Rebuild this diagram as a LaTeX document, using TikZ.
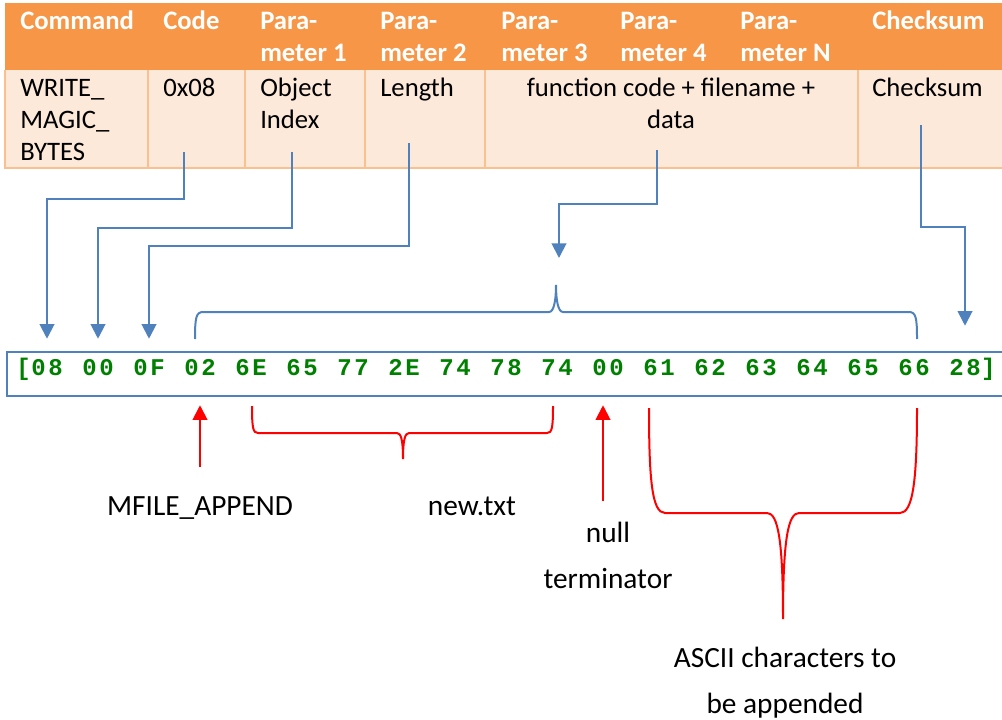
\documentclass[tikz,border=0pt]{standalone}
\usepackage{fontspec}
\setmainfont{Carlito}
\newfontfamily\hexfamily[LetterSpace=10.8]{Liberation Mono}
\usetikzlibrary{positioning,arrows.meta}

\definecolor{headorange}{HTML}{F79646}
\definecolor{bodypeach}{HTML}{FDE9D9}
\definecolor{rulepeach}{HTML}{FAC090}
\definecolor{linkblue}{HTML}{4F81BD}
\definecolor{hexgreen}{RGB}{0,128,0}

\newcommand{\headfont}{\fontsize{20}{24}\selectfont\bfseries}
\newcommand{\cellfont}{\fontsize{20}{24}\selectfont}
\newcommand{\notefont}{\fontsize{22}{34.5}\selectfont}
\newcommand{\hexfont}{\fontsize{18}{20}\selectfont\hexfamily\bfseries}

\begin{document}
\begin{tikzpicture}[x=0.75pt,y=-0.75pt]
  \tikzset{
    headtext/.style={font=\headfont, text=white, inner sep=0pt, anchor=base west, align=left},
    celltext/.style={font=\cellfont, inner sep=0pt, anchor=base west, align=left},
    hexbyte/.style={font=\hexfont, text=hexgreen, inner sep=0pt, text height=4.5pt, text depth=0pt, minimum height=49.5pt},
    note/.style={font=\notefont, inner sep=0pt, anchor=base, align=center},
    link/.style={linkblue, line width=1.5pt, -{Triangle[width=11pt,length=11pt]}},
    redlink/.style={red, line width=1.5pt, -{Triangle[width=11pt,length=11pt]}},
    bracket/.style={line width=1.5pt},
  }
  \useasboundingbox (0,0) rectangle (1002,720);

  % table
  \fill[headorange] (5,3) rectangle (1002,70);
  \fill[bodypeach] (5,70) rectangle (1002,168);
  \draw[rulepeach, line width=1.5pt] (5,70) -- (5,168) -- (1002,168);
  \foreach \x in {148,245,365,485,858}
    \draw[rulepeach, line width=1.5pt] (\x,70) -- (\x,168);

  % (base of a multi-line node = its last line)
  \node[headtext] (hcmd) at (20,30) {Command};
  \node[headtext] (hcode) at (163,30) {Code};
  \node[headtext] (hpar1) at (260,62) {Para-\\meter 1};
  \node[headtext] (hpar2) at (380,62) {Para-\\meter 2};
  \node[headtext] (hpar3) at (501,62) {Para-\\meter 3};
  \node[headtext] (hpar4) at (620,62) {Para-\\meter 4};
  \node[headtext] (hparn) at (740,62) {Para-\\meter N};
  \node[headtext] (hsum) at (872,30) {Checksum};

  \node[celltext] (vcmd) at (20,161) {WRITE\_\\MAGIC\_\\BYTES};
  \node[celltext] (vcode) at (163,97) {0x08};
  \node[celltext] (vpar1) at (260,129) {Object\\Index};
  \node[celltext] (vpar2) at (380,97) {Length};
  \node[celltext, anchor=base, align=center] (vdata) at (671,129) {function code + filename +\\data};
  \node[celltext] (vsum) at (872,97) {Checksum};

  % byte string
  \draw[linkblue, line width=1.2pt] (1004,352) -- (7,352) -- (7,396) -- (1004,396);
  \foreach \b [count=\i] in {08,00,0F,02,6E,65,77,2E,74,78,74,00,61,62,63,64,65,66,28}
    \node[hexbyte] (b\i) at ({47+51*(\i-1)},372) {\b};
  \node[hexbyte, left=0pt of b1] (lbr) {[};
  \node[hexbyte, right=0pt of b19] (rbr) {]};

  % links from the table
  \coordinate (codeout) at (184,152);
  \coordinate (par1out) at (292,152);
  \coordinate (par2out) at (409,143);
  \coordinate (dataout) at (657,150);
  \coordinate (datatip) at (559,258);
  \coordinate (sumout) at (921,125);
  \draw[link] (codeout) -- ++(0,47) -| (b1.north);
  \draw[link] (par1out) -- ++(0,76) -| (b2.north);
  \draw[link] (par2out) -- ++(0,103) -| (b3.north);
  \draw[link] (dataout) -- ++(0,54) -| (datatip);
  \draw[link] (sumout) -- ++(0,102) -| ([yshift=9.75pt]b19.north);

  % braces
  \draw[bracket, linkblue] (195,339) .. controls (195,318) and (196,312) .. (203,312)
    -- (549,312) .. controls (554,312) and (556,300) .. (556,285)
    .. controls (556,300) and (558,312) .. (563,312)
    -- (909,312) .. controls (916,312) and (917,318) .. (917,339);
  \draw[bracket, red] (252,406) .. controls (252,428) and (253,433) .. (258,433)
    -- (397,433) .. controls (401,433) and (403,440) .. (403,459)
    .. controls (403,440) and (405,433) .. (409,433)
    -- (547,433) .. controls (552,433) and (553,428) .. (553,406);
  \draw[bracket, red] (649,408) .. controls (649,480) and (652,513) .. (665,513)
    -- (767,513) .. controls (778,513) and (783,540) .. (783,619)
    .. controls (783,540) and (788,513) .. (799,513)
    -- (900,513) .. controls (913,513) and (917,480) .. (917,408);

  % notes
  \node[note] (mfile) at (200,515) {MFILE\_APPEND};
  \node[note] (fname) at (472,515) {new.txt};
  \node[note] (nullnote) at (608,588) {null\\terminator};
  \node[note] (asciinote) at (785,713) {ASCII characters to\\be appended};

  \coordinate (mfiletail) at (200,467);
  \coordinate (nulltail) at (603,501);
  \draw[redlink] (mfiletail) -- (b4.south);
  \draw[redlink] (nulltail) -- (nulltail |- b12.south);
\end{tikzpicture}
\end{document}
